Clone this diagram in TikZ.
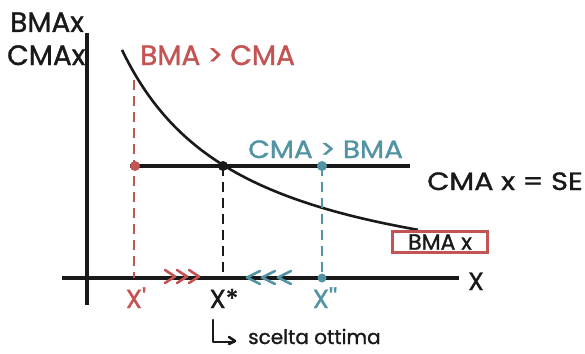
\documentclass[tikz,border=0pt]{standalone}
\usepackage{fontspec}
\setmainfont{Poppins}[FakeBold=1.2]
\newfontfamily\nolig{Poppins}[FakeBold=1.2,Ligatures=TeXOff]
\definecolor{myred}{RGB}{196,84,84}
\definecolor{myteal}{RGB}{82,148,163}
\definecolor{myblack}{RGB}{25,25,25}
\begin{document}
\begin{tikzpicture}[x=1pt,y=-1pt,
  axisline/.style={myblack,line width=3.2pt},
  curveline/.style={myblack,line width=2.6pt},
  dashline/.style={line width=2.8pt,dash pattern=on 10pt off 6pt},
  chev/.style={line width=2.6pt,line cap=round,line join=round},
  dotmark/.style={circle,fill,inner sep=0pt,minimum size=10pt},
  lbl/.style={inner sep=0pt,text=myblack}]
\useasboundingbox (0,0) rectangle (585,353);
\fill[white] (0,0) rectangle (585,353);
% axes
\coordinate (yt) at (87,33);
\coordinate (yb) at (87,305);
\coordinate (xl) at (62,278);
\coordinate (xr) at (459,278);
\draw[axisline] (yt) -- (yb);
\draw[axisline] (xl) -- (xr);
% horizontal CMA line
\coordinate (hl) at (130,166);
\coordinate (hr) at (410,166);
\draw[axisline] (hl) -- (hr);
% BMA curve
\draw[curveline] plot[domain=122:418,samples=80] (\x,{304-100*(310/\x)});
% dashed verticals
\coordinate (rtop) at (134,80);
\coordinate (rbot) at (134,278);
\coordinate (btop) at (223,166);
\coordinate (bbot) at (223,278);
\coordinate (ttop) at (322,166);
\coordinate (tbot) at (322,278);
\draw[dashline,myred] (rtop) -- (rbot);
\draw[dashline,myblack] (btop) -- (bbot);
\draw[dashline,myteal] (ttop) -- (tbot);
% dots
\node[dotmark,myred] (rd) at (135,166) {};
\node[dotmark,myblack] (bd) at (223,166) {};
\node[dotmark,myteal] (td) at (322,166) {};
\node[dotmark,myteal,minimum size=9pt] (tda) at (322,278) {};
% chevrons
\foreach \cx in {165,177,189}{
  \draw[chev,myred] (\cx,270) -- (\cx+10,276.5) -- (\cx,283);}
\foreach \cx in {247,262,278}{
  \draw[chev,myteal] (\cx+13,271) -- (\cx,277.5) -- (\cx+13,284);}
% labels
\node[lbl,anchor=base west,font=\fontsize{28}{28}\selectfont] (bmax) at (10,32) {BMAx};
\node[lbl,anchor=base west,font=\fontsize{28}{28}\selectfont] (cmax) at (7,65) {CMAx};
\node[lbl,anchor=base west,text=myred,font=\fontsize{28}{28}\selectfont] (bgc) at (140,65) {BMA > CMA};
\node[lbl,anchor=base west,text=myteal,font=\fontsize{25}{25}\selectfont,xscale=1.12] (cgb) at (248,158) {CMA > BMA};
\node[lbl,anchor=base west,font=\fontsize{25}{25}\selectfont,xscale=1.15] (cse) at (427,190) {CMA x = SE};
\node[draw=myred,line width=2.2pt,minimum width=95pt,minimum height=21pt,inner sep=0pt,text=myblack,font=\fontsize{22}{22}\selectfont] (bmabox) at (440,242) {BMA x};
\node[lbl,anchor=base,font=\fontsize{25}{25}\selectfont] (xlab) at (476,290) {X};
\node[lbl,anchor=base,text=myred,font=\fontsize{26}{26}\nolig] (x1) at (136,308) {X'};
\node[lbl,anchor=base,font=\fontsize{26}{26}\selectfont] (xs) at (224,308) {X*};
\node[lbl,anchor=base,text=myteal,font=\fontsize{26}{26}\nolig] (x2) at (325,308) {X''};
% scelta ottima
\coordinate (la) at (213,320);
\coordinate (lb) at (213,342);
\coordinate (lc) at (234,342);
\draw[chev,myblack] (la) -- (lb) -- (lc);
\draw[chev,myblack] (229,337) -- (235,341) -- (229,344);
\node[lbl,anchor=base west,font=\fontsize{20}{20}\selectfont] (sc) at (248,344) {scelta ottima};
\end{tikzpicture}
\end{document}
